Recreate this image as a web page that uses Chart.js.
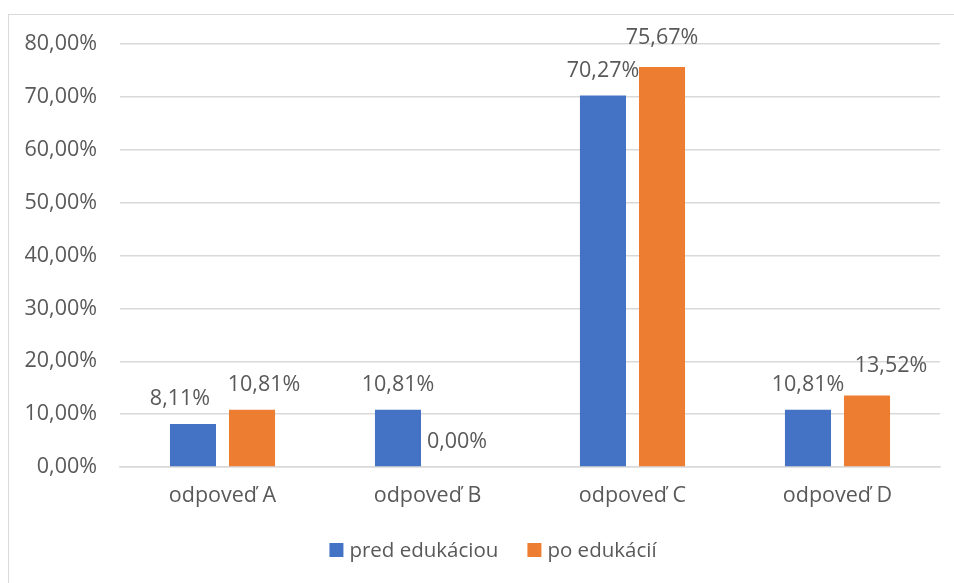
<!DOCTYPE html>
<html>
<head>
<meta charset="utf-8">
<script src="https://cdn.jsdelivr.net/npm/chart.js@4"></script>
<style>
  html, body { margin: 0; padding: 0; background: #fff; overflow: hidden; }
  #wrap { position: relative; width: 954px; height: 583px; overflow: hidden; }
  #frame {
    position: absolute; left: 8px; top: 14px; width: 1100px; height: 700px;
    border: 1px solid #d9d9d9; box-sizing: border-box;
  }
  #chart { position: absolute; left: 0; top: 0; }
</style>
</head>
<body>
<div id="wrap">
  <div id="frame"></div>
  <canvas id="chart" width="954" height="583"></canvas>
</div>
<script>
const categories = ['odpoveď A', 'odpoveď B', 'odpoveď C', 'odpoveď D'];
const predEdukaciou = [8.11, 10.81, 70.27, 10.81];
const poEdukacii = [10.81, 0.0, 75.67, 13.52];
const yTicks = [0, 10, 20, 30, 40, 50, 60, 70, 80];

const FONT = "'Open Sans', 'Noto Sans', sans-serif";
const SIZE = 21.5;
const TEXT = '#595959';

const pct = (v) => v.toFixed(2).replace('.', ',') + '%';

// value labels above each bar; a few are nudged aside so neighbours don't collide
const labelNudge = [
  [[-13, 0], [0, 0], [0, 0], [0, 0]],
  [[12, 0], [0, 0], [0, -4], [24, -5]],
];
const barLabels = {
  id: 'barLabels',
  afterDatasetsDraw(chart) {
    const { ctx } = chart;
    ctx.save();
    ctx.font = `${SIZE}px ${FONT}`;
    ctx.fillStyle = TEXT;
    ctx.textAlign = 'center';
    ctx.textBaseline = 'middle';
    chart.data.datasets.forEach((ds, i) => {
      chart.getDatasetMeta(i).data.forEach((bar, j) => {
        const [dx, dy] = labelNudge[i][j];
        ctx.fillText(pct(ds.data[j]), bar.x + dx, bar.y - 25 + dy);
      });
    });
    ctx.restore();
  },
};

// legend under the axis, Excel style (small square, tight text)
const bottomLegend = {
  id: 'bottomLegend',
  afterDraw(chart) {
    const { ctx } = chart;
    const box = 14, gap = 6, itemGap = 29, cx = 493, cy = 550;
    ctx.save();
    ctx.font = `${SIZE - 1}px ${FONT}`;
    ctx.textBaseline = 'middle';
    const items = chart.data.datasets.map((ds) => ({
      label: ds.label,
      color: ds.backgroundColor,
      w: box + gap + ctx.measureText(ds.label).width,
    }));
    const total = items.reduce((s, it) => s + it.w, 0) + itemGap * (items.length - 1);
    let x = cx - total / 2;
    items.forEach((it) => {
      ctx.fillStyle = it.color;
      ctx.fillRect(x, cy - box / 2, box, box);
      ctx.fillStyle = TEXT;
      ctx.fillText(it.label, x + box + gap, cy + 1);
      x += it.w + itemGap;
    });
    ctx.restore();
  },
};

new Chart(document.getElementById('chart'), {
  type: 'bar',
  data: {
    labels: categories,
    datasets: [
      {
        label: 'pred edukáciou',
        data: predEdukaciou,
        backgroundColor: '#4472C4',
        categoryPercentage: 0.576,
        barPercentage: 0.78,
      },
      {
        label: 'po edukácií',
        data: poEdukacii,
        backgroundColor: '#ED7D31',
        categoryPercentage: 0.576,
        barPercentage: 0.78,
      },
    ],
  },
  options: {
    responsive: false,
    animation: false,
    layout: { padding: { top: 44, right: 14, left: 0, bottom: 66 } },
    scales: {
      y: {
        min: 0,
        max: 80,
        afterFit: (s) => { s.width = 120; },
        afterBuildTicks: (s) => { s.ticks = yTicks.map((v) => ({ value: v })); },
        ticks: {
          color: TEXT,
          font: { family: FONT, size: SIZE },
          padding: 23,
          callback: (v) => pct(v),
        },
        grid: { color: '#d9d9d9', drawTicks: false, lineWidth: 1.5 },
        border: { display: false },
      },
      x: {
        afterFit: (s) => { s.height = 50; },
        ticks: {
          color: TEXT,
          font: { family: FONT, size: SIZE },
          padding: 16,
        },
        grid: { display: false, drawTicks: false },
        border: { color: '#d9d9d9', width: 1.5 },
      },
    },
    plugins: {
      tooltip: { enabled: false },
      legend: { display: false },
    },
  },
  plugins: [barLabels, bottomLegend],
});
</script>
</body>
</html>
